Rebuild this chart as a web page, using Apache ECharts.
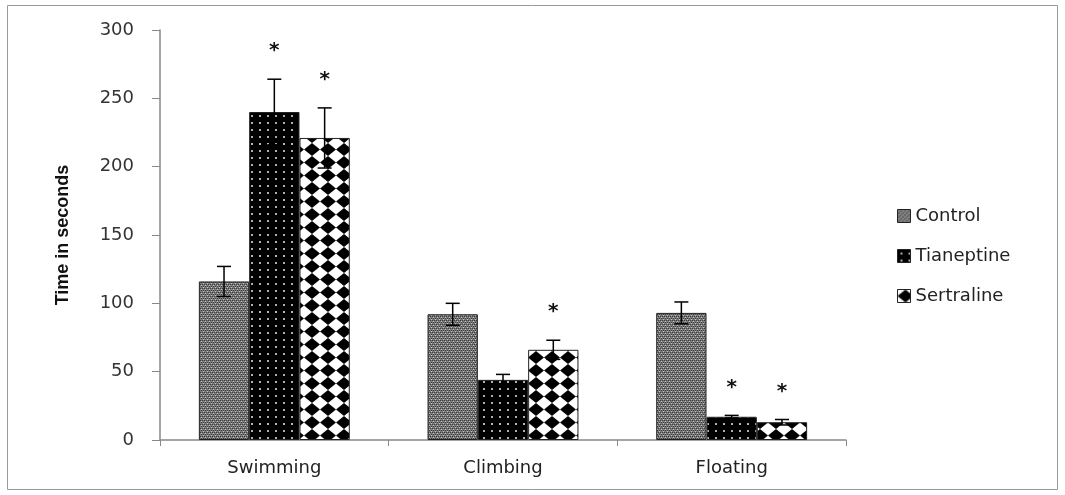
<!DOCTYPE html>
<html><head><meta charset="utf-8">
<script src="https://cdn.jsdelivr.net/npm/echarts@6/dist/echarts.min.js"></script>
<style>html,body{margin:0;padding:0;background:#fff}#c{width:1065px;height:495px}</style>
</head><body><div id="c"></div>
<script>
const categories = ['Swimming', 'Climbing', 'Floating'];
const seriesNames = ['Control', 'Tianeptine', 'Sertraline'];
const controlVals = [116, 92, 93];
const tianeptineVals = [240, 44, 17];
const sertralineVals = [221, 66, 13];
const controlErr = [11, 8, 8];
const tianeptineErr = [24, 4, 1];
const sertralineErr = [22, 7, 2];
const controlStar = [false, false, false];
const tianeptineStar = [true, false, true];
const sertralineStar = [true, true, true];
const yTicks = [0, 50, 100, 150, 200, 250, 300];

function makeTile(w, h, draw) {
  const c = document.createElement('canvas');
  c.width = w; c.height = h;
  const g = c.getContext('2d');
  draw(g, w, h);
  return c;
}
const controlTile = makeTile(4, 4, (g) => {
  g.fillStyle = '#7c7c7c'; g.fillRect(0, 0, 4, 4);
  g.fillStyle = '#3a3a3a';
  g.fillRect(0, 0, 1, 1); g.fillRect(2, 0, 1, 1); g.fillRect(1, 2, 1, 1); g.fillRect(3, 2, 1, 1);
  g.fillStyle = '#c4c4c4';
  g.fillRect(1, 1, 1, 1); g.fillRect(3, 3, 1, 1);
});
const tianTile = makeTile(8, 7, (g) => {
  g.fillStyle = '#000'; g.fillRect(0, 0, 8, 7);
  g.fillStyle = '#b0b0b0'; g.fillRect(3, 3, 2, 2);
});
const sertTile = makeTile(16, 13, (g) => {
  g.fillStyle = '#fff'; g.fillRect(0, 0, 16, 13);
  g.fillStyle = '#000';
  g.beginPath(); g.moveTo(8, 0); g.lineTo(16, 6.5); g.lineTo(8, 13); g.lineTo(0, 6.5); g.closePath(); g.fill();
});
const fills = [controlTile, tianTile, sertTile].map(t => ({ image: t, repeat: 'repeat' }));

const vals = [controlVals, tianeptineVals, sertralineVals];
const errs = [controlErr, tianeptineErr, sertralineErr];
const stars = [controlStar, tianeptineStar, sertralineStar];
const errData = [];
for (let s = 0; s < 3; s++) for (let i = 0; i < categories.length; i++)
  errData.push([i, vals[s][i], errs[s][i], s, stars[s][i] ? 1 : 0]);

const gapFrac = 0.34;
const chart = echarts.init(document.getElementById('c'), null, { renderer: 'canvas' });
chart.setOption({
  animation: false,
  graphic: [{ type: 'rect', shape: { x: 7.5, y: 5.5, width: 1050, height: 484 }, style: { fill: 'none', stroke: '#999', lineWidth: 1 }, silent: true }],
  grid: { left: 160, right: 219, top: 30, bottom: 55 },
  legend: {
    data: seriesNames.map(n => ({ name: n, icon: 'rect' })), orient: 'vertical', left: 892, top: 202,
    itemWidth: 13, itemHeight: 13, itemGap: 22,
    textStyle: { fontFamily: 'DejaVu Sans', fontSize: 18, color: '#222' },
    itemStyle: { borderColor: '#222', borderWidth: 1 }
  },
  xAxis: {
    type: 'category', data: categories,
    axisLine: { lineStyle: { color: '#888', width: 1.5 } },
    axisTick: { show: true, length: 6, lineStyle: { color: '#888' } },
    axisLabel: { fontFamily: 'DejaVu Sans', fontSize: 18, color: '#222', margin: 19 }
  },
  yAxis: {
    type: 'value', min: 0, max: 300, interval: 50,
    name: 'Time in seconds', nameLocation: 'middle', nameGap: 88,
    nameTextStyle: { fontFamily: 'Liberation Sans', fontWeight: 'bold', fontSize: 18, color: '#111' },
    axisLine: { show: true, lineStyle: { color: '#888', width: 1.5 } },
    axisTick: { show: true, length: 8, lineStyle: { color: '#888' } },
    splitLine: { show: false },
    axisLabel: { fontFamily: 'DejaVu Sans', fontSize: 18, color: '#333', margin: 26,
      formatter: v => yTicks.includes(v) ? String(v) : '' }
  },
  series: seriesNames.map((n, s) => ({
    name: n, type: 'bar', data: vals[s],
    barGap: '0%', barCategoryGap: (gapFrac * 100) + '%',
    itemStyle: { color: fills[s], borderColor: '#222', borderWidth: 1 }
  })).concat([{
    type: 'custom', name: 'err', data: errData, z: 10,
    encode: { x: 0, y: 1 },
    renderItem: function (params, api) {
      const cat = api.value(0), v = api.value(1), e = api.value(2), s = api.value(3), st = api.value(4);
      const band = api.size([1, 0])[0];
      const bw = band * (1 - gapFrac) / 3;
      const c = api.coord([cat, v]);
      const x = c[0] + (s - 1) * bw;
      const yt = api.coord([cat, v + e])[1];
      const yb = api.coord([cat, v - e])[1];
      const cap = 7;
      const st0 = { stroke: '#000', lineWidth: 1.5 };
      const children = [
        { type: 'line', shape: { x1: x, y1: yt, x2: x, y2: yb }, style: st0 },
        { type: 'line', shape: { x1: x - cap, y1: yt, x2: x + cap, y2: yt }, style: st0 },
        { type: 'line', shape: { x1: x - cap, y1: yb, x2: x + cap, y2: yb }, style: st0 }
      ];
      if (st) children.push({ type: 'text', style: { text: '*', x: x, y: yt - 28, textAlign: 'center', textVerticalAlign: 'middle', font: 'bold 20px DejaVu Sans', fill: '#111' } });
      return { type: 'group', children: children };
    }
  }])
});
</script></body></html>
